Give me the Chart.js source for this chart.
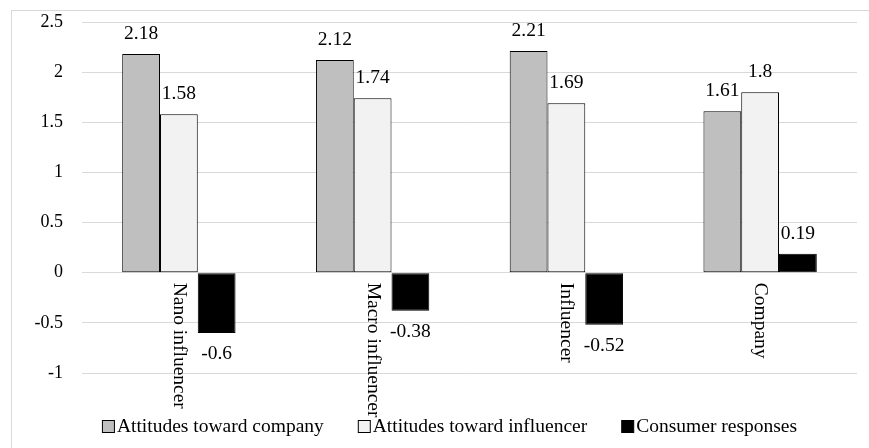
<!DOCTYPE html>
<html>
<head>
<meta charset="utf-8">
<script src="https://cdn.jsdelivr.net/npm/chart.js@4/dist/chart.umd.min.js"></script>
<style>
  html, body { margin: 0; padding: 0; background: #fff; overflow: hidden; }
  #wrap { position: relative; width: 869px; height: 448px; }
  #frame { position: absolute; left: 11px; top: 10px; width: 900px; height: 500px; border: 1px solid #D9D9D9; box-sizing: border-box; }
  #c { position: absolute; left: 0; top: 0; }
</style>
</head>
<body>
<div id="wrap">
  <div id="frame"></div>
  <canvas id="c" width="869" height="448"></canvas>
</div>
<script>
const categories = ['Nano influencer', 'Macro influencer', 'Influencer', 'Company'];
const seriesNames = ['Attitudes toward company', 'Attitudes toward influencer', 'Consumer responses'];
const attitudesCompany = [2.18, 2.12, 2.21, 1.61];
const attitudesInfluencer = [1.58, 1.74, 1.69, 1.8];
const consumerResponses = [-0.6, -0.38, -0.52, 0.19];
const yMin = -1, yMax = 2.5, yStep = 0.5;

const FONT = "'Liberation Serif', 'Times New Roman', serif";
const fills = ['#BFBFBF', '#F2F2F2', '#000000'];

const valueLabels = {
  id: 'valueLabels',
  afterDatasetsDraw(chart) {
    const ctx = chart.ctx;
    ctx.save();
    ctx.font = '19.5px ' + FONT;
    ctx.fillStyle = '#000';
    ctx.textAlign = 'center';
    ctx.textBaseline = 'middle';
    chart.data.datasets.forEach((ds, di) => {
      const meta = chart.getDatasetMeta(di);
      meta.data.forEach((el, i) => {
        const v = ds.data[i];
        const y = v >= 0 ? el.y - 20 : el.y + 21;
        ctx.fillText(String(v), el.x, y);
      });
    });
    ctx.restore();
  }
};

const categoryLabels = {
  id: 'categoryLabels',
  afterDraw(chart) {
    const ctx = chart.ctx;
    const xs = chart.scales.x, ys = chart.scales.y;
    const y0 = ys.getPixelForValue(0) + 10;
    ctx.save();
    ctx.font = '19.5px ' + FONT;
    ctx.fillStyle = '#000';
    ctx.textAlign = 'left';
    ctx.textBaseline = 'middle';
    categories.forEach((c, i) => {
      const x = xs.getPixelForValue(i);
      ctx.save();
      ctx.translate(x, y0);
      ctx.rotate(Math.PI / 2);
      ctx.fillText(c, 0, 0);
      ctx.restore();
    });
    ctx.restore();
  }
};

const customLegend = {
  id: 'customLegend',
  afterDraw(chart) {
    const ctx = chart.ctx;
    ctx.save();
    ctx.font = '19.5px ' + FONT;
    ctx.textBaseline = 'middle';
    ctx.textAlign = 'left';
    const box = 12, boxGap = 3, itemGap = 34, cy = 426;
    const widths = seriesNames.map(n => box + boxGap + ctx.measureText(n).width);
    const total = widths.reduce((a, b) => a + b, 0) + itemGap * (seriesNames.length - 1);
    let x = 449.5 - total / 2;
    seriesNames.forEach((n, i) => {
      ctx.fillStyle = fills[i];
      ctx.fillRect(x + 0.5, cy - box / 2 + 0.5, box, box);
      ctx.strokeStyle = '#000';
      ctx.lineWidth = 1;
      ctx.strokeRect(x + 0.5, cy - box / 2 + 0.5, box, box);
      ctx.fillStyle = '#000';
      ctx.fillText(n, x + box + boxGap, cy + 1);
      x += widths[i] + itemGap;
    });
    ctx.restore();
  }
};

new Chart(document.getElementById('c'), {
  type: 'bar',
  data: {
    labels: categories,
    datasets: [
      { label: seriesNames[0], data: attitudesCompany, backgroundColor: fills[0], borderColor: '#000', borderWidth: 1, borderSkipped: false },
      { label: seriesNames[1], data: attitudesInfluencer, backgroundColor: fills[1], borderColor: '#000', borderWidth: 1, borderSkipped: false },
      { label: seriesNames[2], data: consumerResponses, backgroundColor: fills[2], borderColor: '#000', borderWidth: 1, borderSkipped: false }
    ]
  },
  options: {
    responsive: false,
    animation: false,
    devicePixelRatio: 1,
    layout: { padding: { left: 1, top: 22, right: 12, bottom: 75 } },
    datasets: { bar: { categoryPercentage: 0.585, barPercentage: 1.0 } },
    plugins: {
      legend: { display: false },
      tooltip: { enabled: false },
      title: { display: false }
    },
    scales: {
      x: { display: false },
      y: {
        min: yMin, max: yMax,
        afterFit(scale) { scale.width = 81; scale.paddingTop = 0; scale.paddingBottom = 0; },
        border: { display: false },
        grid: { color: '#D9D9D9', lineWidth: 1, drawTicks: false },
        ticks: {
          stepSize: yStep,
          padding: 19,
          color: '#000',
          font: { family: FONT, size: 18 },
          callback: v => String(Math.round(v * 10) / 10)
        }
      }
    }
  },
  plugins: [valueLabels, categoryLabels, customLegend]
});
</script>
</body>
</html>
